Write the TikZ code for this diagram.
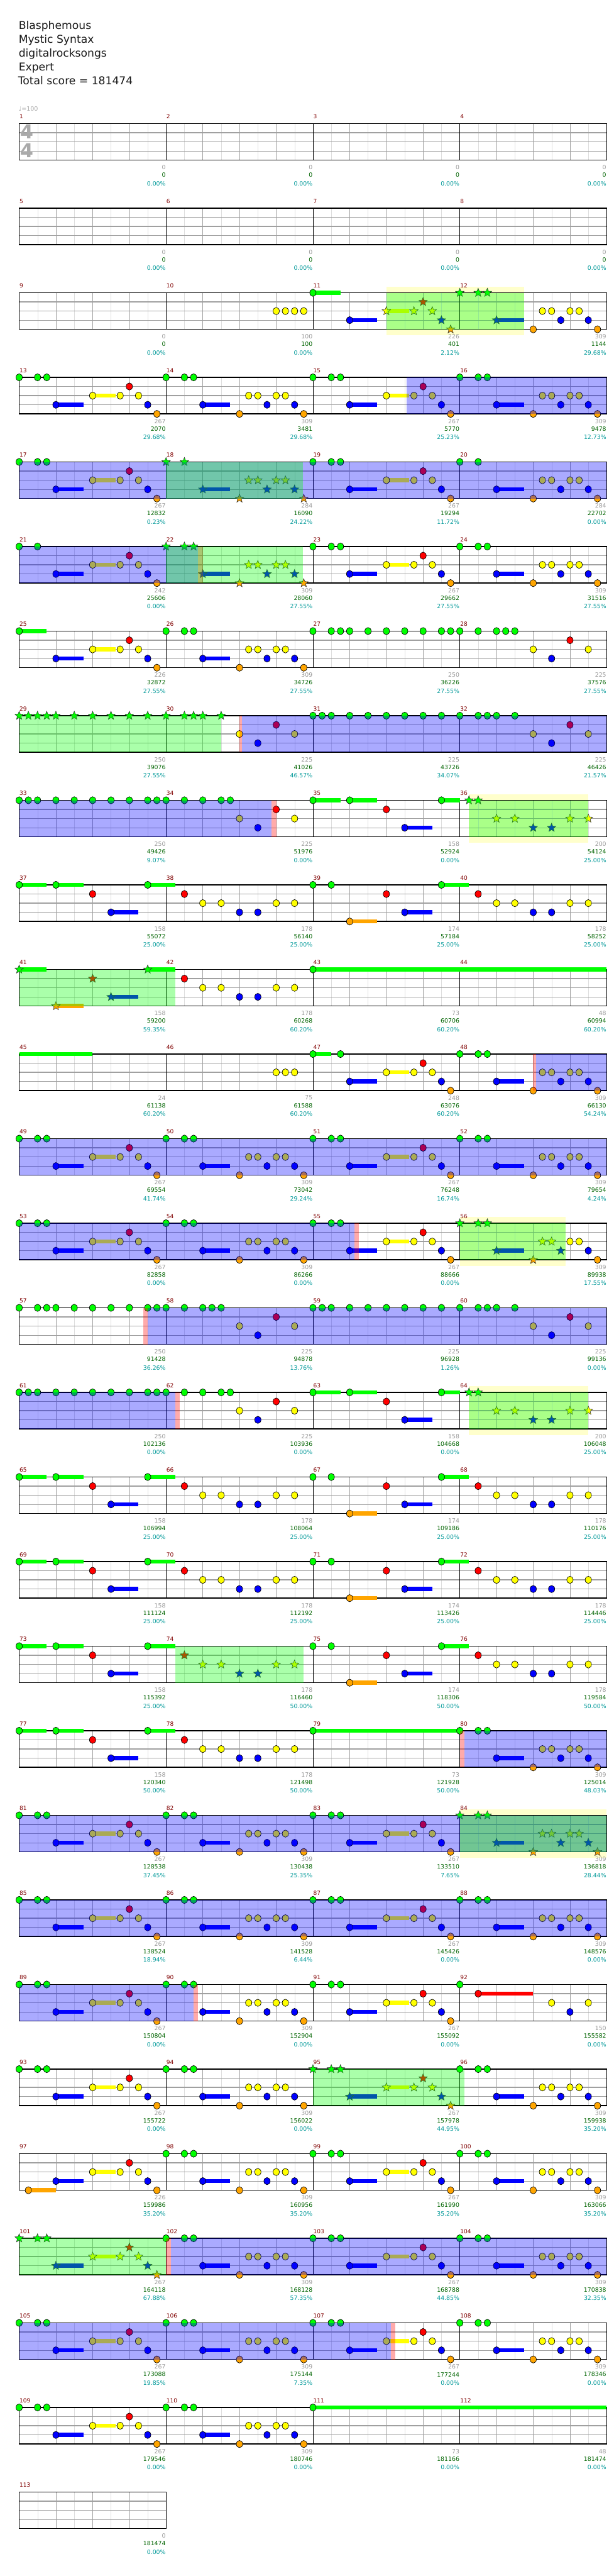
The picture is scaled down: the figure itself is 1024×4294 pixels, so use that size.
\documentclass[tikz,border=0pt]{standalone}
\usepackage{fontspec}
\setmainfont{DejaVu Sans}
\usetikzlibrary{shapes.geometric}
\definecolor{lane0}{HTML}{00FF00}
\definecolor{lane1}{HTML}{FF0000}
\definecolor{lane2}{HTML}{FFFF00}
\definecolor{lane3}{HTML}{0000FF}
\definecolor{lane4}{HTML}{FFA500}
\definecolor{barnum}{HTML}{800000}
\definecolor{ptgray}{HTML}{999999}
\definecolor{ptgreen}{HTML}{006400}
\definecolor{ptteal}{HTML}{009999}
\definecolor{phrasebg}{HTML}{FFFFCC}
\definecolor{gridmid}{HTML}{A0A0A0}
\definecolor{gridlight}{HTML}{DDDDDD}
\definecolor{sigray}{HTML}{AAAAAA}
\pgfdeclarelayer{phraselayer}
\pgfdeclarelayer{tintlayer}
\pgfsetlayers{phraselayer,main,tintlayer}
\tikzset{
  note/.style={ellipse, draw=black, line width=0.7pt, minimum width=10.5pt, minimum height=12pt, inner sep=0pt},
  starnote/.style={star, star points=5, star point ratio=2.3, draw=black!80, line width=0.6pt, minimum size=15pt, inner sep=0pt},
  barlabel/.style={font=\fontsize{9.5}{9.5}\selectfont, text=barnum, anchor=west, inner sep=0pt},
  ptlabel/.style={font=\fontsize{9.8}{9.8}\selectfont, anchor=east, inner sep=0pt},
  titletext/.style={font=\fontsize{18}{18}\selectfont, anchor=base west, inner sep=0pt, text=black!90},
  timesig/.style={font=\bfseries\fontsize{32}{32}\selectfont, text=sigray, inner sep=0pt}
}
\newcommand{\colw}{15.3125}
\newcommand{\laneh}{15.25}
% one measure: shift to its origin
\newcommand{\measure}[2]{%
  \pgfmathtruncatemacro\mrow{(#1-1)/4}%
  \pgfmathtruncatemacro\mcol{mod(#1-1,4)}%
  \begin{scope}[shift={({32+245*\mcol},{206+141*\mrow})}]#2\end{scope}}
\newcommand{\gem}[2]{\node[note,fill=lane#1] at ({#2*\colw},{#1*\laneh}) {};}
\newcommand{\hold}[3]{\fill[lane#1] ({#2*\colw},{#1*\laneh-3.4}) rectangle ({#3*\colw},{#1*\laneh+3.4});}
\newcommand{\gemhold}[3]{\hold{#1}{#2}{#3}\gem{#1}{#2}}
\newcommand{\stargem}[2]{\node[starnote,fill=lane#1] at ({#2*\colw},{#1*\laneh}) {};}
\newcommand{\starhold}[3]{\hold{#1}{#2}{#3}\stargem{#1}{#2}}
\newcommand{\tintblue}[2]{\begin{pgfonlayer}{tintlayer}\fill[lane3,fill opacity=0.333] ({#1*\colw},0) rectangle ({#2*\colw},61);\end{pgfonlayer}}
\newcommand{\tintgreen}[2]{\begin{pgfonlayer}{tintlayer}\fill[lane0,fill opacity=0.333] ({#1*\colw},0) rectangle ({#2*\colw},61);\end{pgfonlayer}}
\newcommand{\tintred}[2]{\begin{pgfonlayer}{tintlayer}\fill[lane1,fill opacity=0.333] ({#1*\colw},0) rectangle ({#2*\colw},61);\end{pgfonlayer}}
\newcommand{\phraseglow}[2]{\begin{pgfonlayer}{phraselayer}\fill[phrasebg] ({#1*\colw},-10) rectangle ({#2*\colw},71);\end{pgfonlayer}}
\newcommand{\pts}[3]{%
  \node[ptlabel,text=ptgray] at (244.5,73) {#1};
  \node[ptlabel,text=ptgreen] at (244.5,86) {#2};
  \node[ptlabel,text=ptteal] at (244.5,100) {#3};}
% riff pieces
\newcommand{\headG}[1]{#1{0}{0}#1{0}{2}#1{0}{3}}
\newcommand{\tailA}[2]{#2{3}{4}{7}#2{2}{8}{10.5}#1{2}{11}#1{1}{12}#1{2}{13}#1{3}{14}#1{4}{15}}
\newcommand{\tailB}[2]{#2{3}{4}{7}#1{4}{8}#1{2}{9}#1{2}{10}#1{3}{11}#1{2}{12}#1{2}{13}#1{3}{14}#1{4}{15}}
\newcommand{\riffA}{\headG\gem\tailA\gem\gemhold}
\newcommand{\riffB}{\headG\gem\tailB\gem\gemhold}
\newcommand{\starA}{\headG\stargem\tailA\stargem\starhold}
\newcommand{\starB}{\headG\stargem\tailB\stargem\starhold}
\newcommand{\leadC}[1]{#1{1}{2}#1{2}{4}#1{2}{6}#1{3}{8}#1{3}{10}#1{2}{12}#1{2}{14}}
\newcommand{\leadD}{\gem{2}{8}\gem{3}{10}\gem{1}{12}\gem{2}{14}}
\newcommand{\holdsE}{\gemhold{0}{0}{3}\gemhold{0}{4}{7}\gem{1}{8}\gemhold{3}{10}{13}\gemhold{0}{14}{17}}
\newcommand{\holdsF}{\gem{0}{0}\gem{0}{2}\gemhold{4}{4}{7}\gem{1}{8}\gemhold{3}{10}{13}\gemhold{0}{14}{17}}
\begin{document}
\begin{tikzpicture}[x=1pt,y=-1pt]
\begin{pgfonlayer}{phraselayer}
\fill[white] (0,0) rectangle (1024,4294);
\end{pgfonlayer}
\useasboundingbox (0,0) rectangle (1024,4294);
% header
\node[titletext] (song) at (31,49) {Blasphemous};
\node[titletext] (artist) at (31,72) {Mystic Syntax};
\node[titletext] (charter) at (31,95) {digitalrocksongs};
\node[titletext] (level) at (31,118) {Expert};
\node[titletext] (total) at (30,141) {Total score = 181474};
\node[font=\fontsize{10}{10}\selectfont, text=sigray, anchor=base west, inner sep=0pt] (tempo) at (31,185) {♩=100};
% staves
\foreach \r in {0,...,27} {
  \begin{scope}[shift={(32,{206+141*\r})}]
    \foreach \i in {1,3,...,31} \draw[gridlight] ({\i*30.625},0) -- ({\i*30.625},61);
    \foreach \i in {1,...,15} \draw[gridmid] ({\i*61.25},0) -- ({\i*61.25},61);
    \foreach \j in {1,2,3} \draw[gridmid,line width=1.3pt] (0,{\j*15.25}) -- (980,{\j*15.25});
    \foreach \c in {1,2,3} \draw[black,line width=0.8pt] ({\c*245},0) -- ({\c*245},61);
    \draw[black,line width=1.5pt] (0,0) rectangle (980,61);
    \foreach \c in {0,...,3} {
      \pgfmathtruncatemacro\mnum{\r*4+\c+1}
      \node[barlabel] at ({\c*245+0.5},-11.5) {\mnum};
    }
  \end{scope}
}
\begin{scope}[shift={(32,{206+141*28})}]
  \foreach \i in {1,3,...,7} \draw[gridlight] ({\i*30.625},0) -- ({\i*30.625},61);
  \foreach \i in {1,2,3} \draw[gridmid] ({\i*61.25},0) -- ({\i*61.25},61);
  \foreach \j in {1,2,3} \draw[gridmid,line width=1.3pt] (0,{\j*15.25}) -- (245,{\j*15.25});
  \draw[black,line width=1.5pt] (0,0) rectangle (245,61);
  \node[barlabel] at (0.5,-11.5) {113};
\end{scope}
\node[timesig] (sigtop) at (44.5,220) {4};
\node[timesig] (sigbot) at (44.5,250.5) {4};
% rows 1-2
\foreach \m in {1,...,8} {\measure{\m}{\pts{0}{0}{0.00\%}}}
% row 3
\measure{9}{\pts{0}{0}{0.00\%}}
\measure{10}{\gem{2}{12}\gem{2}{13}\gem{2}{14}\gem{2}{15}\pts{100}{100}{0.00\%}}
\measure{11}{\gemhold{0}{0}{3}\gemhold{3}{4}{7}\starhold{2}{8}{10.5}\stargem{2}{11}\stargem{1}{12}\stargem{2}{13}\stargem{3}{14}\stargem{4}{15}
  \tintgreen{8}{23}\phraseglow{8}{23}\pts{226}{401}{2.12\%}}
\measure{12}{\headG\stargem\starhold{3}{4}{7}\gem{4}{8}\gem{2}{9}\gem{2}{10}\gem{3}{11}\gem{2}{12}\gem{2}{13}\gem{3}{14}\gem{4}{15}\pts{309}{1144}{29.68\%}}
% row 4
\measure{13}{\riffA\pts{267}{2070}{29.68\%}}
\measure{14}{\riffB\pts{309}{3481}{29.68\%}}
\measure{15}{\riffA\tintblue{10.2}{16}\pts{267}{5770}{25.23\%}}
\measure{16}{\riffB\tintblue{0}{16}\pts{309}{9478}{12.73\%}}
% row 5
\measure{17}{\riffA\tintblue{0}{16}\pts{267}{12832}{0.23\%}}
\measure{18}{\stargem{0}{0}\stargem{0}{2}\tailB\stargem\starhold\tintblue{0}{16}\tintgreen{0}{14.9}\pts{284}{16090}{24.22\%}}
\measure{19}{\riffA\tintblue{0}{16}\pts{267}{19294}{11.72\%}}
\measure{20}{\gem{0}{0}\gem{0}{2}\tailB\gem\gemhold\tintblue{0}{16}\pts{284}{22702}{0.00\%}}
% row 6
\measure{21}{\gem{0}{0}\gem{0}{2}\tailA\gem\gemhold\tintblue{0}{16}\pts{242}{25606}{0.00\%}}
\measure{22}{\starB\tintblue{0}{3.5}\tintred{3.5}{4}\tintgreen{0}{14.9}\pts{309}{28060}{27.55\%}}
\measure{23}{\riffA\pts{267}{29662}{27.55\%}}
\measure{24}{\riffB\pts{309}{31516}{27.55\%}}
% row 7
\measure{25}{\gemhold{0}{0}{3}\tailA\gem\gemhold\pts{226}{32872}{27.55\%}}
\measure{26}{\riffB\pts{309}{34726}{27.55\%}}
\measure{27}{\foreach \p in {0,2,3,4,6,8,10,12,14,15} {\gem{0}{\p}}\pts{250}{36226}{27.55\%}}
\measure{28}{\foreach \p in {0,2,4,5,6} {\gem{0}{\p}}\leadD\pts{225}{37576}{27.55\%}}
% row 8
\measure{29}{\foreach \p in {0,1,2,3,4,6,8,10,12,14} {\stargem{0}{\p}}\tintgreen{0}{22}\pts{250}{39076}{27.55\%}}
\measure{30}{\foreach \p in {0,2,3,4,6} {\stargem{0}{\p}}\leadD\tintred{8}{8.3}\tintblue{8.3}{16}\pts{225}{41026}{46.57\%}}
\measure{31}{\foreach \p in {0,1,2,4,6,8,10,12,14} {\gem{0}{\p}}\tintblue{0}{16}\pts{225}{43726}{34.07\%}}
\measure{32}{\foreach \p in {0,2,3,4,6} {\gem{0}{\p}}\leadD\tintblue{0}{16}\pts{225}{46426}{21.57\%}}
% row 9
\measure{33}{\foreach \p in {0,1,2,4,6,8,10,12,14,15} {\gem{0}{\p}}\tintblue{0}{16}\pts{250}{49426}{9.07\%}}
\measure{34}{\foreach \p in {0,2,4,6,7} {\gem{0}{\p}}\leadD\tintblue{0}{11.5}\tintred{11.5}{12}\pts{225}{51976}{0.00\%}}
\measure{35}{\gemhold{0}{0}{3}\gemhold{0}{4}{7}\gem{1}{8}\gemhold{3}{10}{13}\gemhold{0}{14}{16}\pts{158}{52924}{0.00\%}}
\measure{36}{\stargem{0}{1}\stargem{0}{2}\stargem{2}{4}\stargem{2}{6}\stargem{3}{8}\stargem{3}{10}\stargem{2}{12}\stargem{2}{14}
  \tintgreen{1}{14}\phraseglow{1}{14}\pts{200}{54124}{25.00\%}}
% row 10
\measure{37}{\holdsE\pts{158}{55072}{25.00\%}}
\measure{38}{\leadC\gem\pts{178}{56140}{25.00\%}}
\measure{39}{\holdsF\pts{174}{57184}{25.00\%}}
\measure{40}{\leadC\gem\pts{178}{58252}{25.00\%}}
% row 11
\measure{41}{\starhold{0}{0}{3}\starhold{4}{4}{7}\stargem{1}{8}\starhold{3}{10}{13}\starhold{0}{14}{17}\tintgreen{0}{17}\pts{158}{59200}{59.35\%}}
\measure{42}{\leadC\gem\pts{178}{60268}{60.20\%}}
\measure{43}{\gemhold{0}{0}{32}\pts{73}{60706}{60.20\%}}
\measure{44}{\pts{48}{60994}{60.20\%}}
% row 12
\measure{45}{\hold{0}{0}{8}\pts{24}{61138}{60.20\%}}
\measure{46}{\gem{2}{12}\gem{2}{13}\gem{2}{14}\pts{75}{61588}{60.20\%}}
\measure{47}{\gemhold{0}{0}{2}\gem{0}{3}\tailA\gem\gemhold\pts{248}{63076}{60.20\%}}
\measure{48}{\riffB\tintred{8}{8.3}\tintblue{8.3}{16}\pts{309}{66130}{54.24\%}}
% row 13
\measure{49}{\riffA\tintblue{0}{16}\pts{267}{69554}{41.74\%}}
\measure{50}{\riffB\tintblue{0}{16}\pts{309}{73042}{29.24\%}}
\measure{51}{\riffA\tintblue{0}{16}\pts{267}{76248}{16.74\%}}
\measure{52}{\riffB\tintblue{0}{16}\pts{309}{79654}{4.24\%}}
% row 14
\measure{53}{\riffA\tintblue{0}{16}\pts{267}{82858}{0.00\%}}
\measure{54}{\riffB\tintblue{0}{16}\pts{309}{86266}{0.00\%}}
\measure{55}{\riffA\tintblue{0}{4.5}\tintred{4.5}{5}\pts{267}{88666}{0.00\%}}
\measure{56}{\headG\stargem\starhold{3}{4}{7}\stargem{4}{8}\stargem{2}{9}\stargem{2}{10}\stargem{3}{11}\gem{2}{12}\gem{2}{13}\gem{3}{14}\gem{4}{15}
  \tintgreen{0}{11.5}\phraseglow{0}{11.5}\pts{309}{89938}{17.55\%}}
% row 15
\measure{57}{\foreach \p in {0,2,3,4,6,8,10,12,14,15} {\gem{0}{\p}}\tintred{13.5}{14}\tintblue{14}{16}\pts{250}{91428}{36.26\%}}
\measure{58}{\foreach \p in {0,2,4,5,6} {\gem{0}{\p}}\leadD\tintblue{0}{16}\pts{225}{94878}{13.76\%}}
\measure{59}{\foreach \p in {0,1,2,4,6,8,10,12,14} {\gem{0}{\p}}\tintblue{0}{16}\pts{225}{96928}{1.26\%}}
\measure{60}{\foreach \p in {0,2,3,4,6} {\gem{0}{\p}}\leadD\tintblue{0}{16}\pts{225}{99136}{0.00\%}}
% row 16
\measure{61}{\foreach \p in {0,1,2,4,6,8,10,12,14,15} {\gem{0}{\p}}\tintblue{0}{16}\pts{250}{102136}{0.00\%}}
\measure{62}{\foreach \p in {0,2,4,6,7} {\gem{0}{\p}}\leadD\tintblue{0}{1}\tintred{1}{1.5}\pts{225}{103936}{0.00\%}}
\measure{63}{\gemhold{0}{0}{3}\gemhold{0}{4}{7}\gem{1}{8}\gemhold{3}{10}{13}\gemhold{0}{14}{16}\pts{158}{104668}{0.00\%}}
\measure{64}{\stargem{0}{1}\stargem{0}{2}\stargem{2}{4}\stargem{2}{6}\stargem{3}{8}\stargem{3}{10}\stargem{2}{12}\stargem{2}{14}
  \tintgreen{1}{14}\phraseglow{1}{14}\pts{200}{106048}{25.00\%}}
% row 17
\measure{65}{\holdsE\pts{158}{106994}{25.00\%}}
\measure{66}{\leadC\gem\pts{178}{108064}{25.00\%}}
\measure{67}{\holdsF\pts{174}{109186}{25.00\%}}
\measure{68}{\leadC\gem\pts{178}{110176}{25.00\%}}
% row 18
\measure{69}{\holdsE\pts{158}{111124}{25.00\%}}
\measure{70}{\leadC\gem\pts{178}{112192}{25.00\%}}
\measure{71}{\holdsF\pts{174}{113426}{25.00\%}}
\measure{72}{\leadC\gem\pts{178}{114446}{25.00\%}}
% row 19
\measure{73}{\holdsE\pts{158}{115392}{25.00\%}}
\measure{74}{\leadC\stargem\tintgreen{1}{15}\pts{178}{116460}{50.00\%}}
\measure{75}{\holdsF\pts{174}{118306}{50.00\%}}
\measure{76}{\leadC\gem\pts{178}{119584}{50.00\%}}
% row 20
\measure{77}{\holdsE\pts{158}{120340}{50.00\%}}
\measure{78}{\leadC\gem\pts{178}{121498}{50.00\%}}
\measure{79}{\gemhold{0}{0}{16}\pts{73}{121928}{50.00\%}}
\measure{80}{\riffB\tintred{0}{0.5}\tintblue{0.5}{16}\pts{309}{125014}{48.03\%}}
% row 21
\measure{81}{\riffA\tintblue{0}{16}\pts{267}{128538}{37.45\%}}
\measure{82}{\riffB\tintblue{0}{16}\pts{309}{130438}{25.35\%}}
\measure{83}{\riffA\tintblue{0}{16}\pts{267}{133510}{7.65\%}}
\measure{84}{\starB\tintblue{0}{16}\tintgreen{0}{16}\phraseglow{0}{16}\pts{309}{136818}{28.44\%}}
% row 22
\measure{85}{\riffA\tintblue{0}{16}\pts{267}{138524}{18.94\%}}
\measure{86}{\riffB\tintblue{0}{16}\pts{309}{141528}{6.44\%}}
\measure{87}{\riffA\tintblue{0}{16}\pts{267}{145426}{0.00\%}}
\measure{88}{\riffB\tintblue{0}{16}\pts{309}{148576}{0.00\%}}
% row 23
\measure{89}{\riffA\tintblue{0}{16}\pts{267}{150804}{0.00\%}}
\measure{90}{\riffB\tintblue{0}{3}\tintred{3}{3.5}\pts{309}{152904}{0.00\%}}
\measure{91}{\riffA\pts{267}{155092}{0.00\%}}
\measure{92}{\gem{0}{0}\gemhold{1}{2}{8}\gem{2}{10}\gem{3}{12}\gem{2}{14}\pts{150}{155582}{0.00\%}}
% row 24
\measure{93}{\riffA\pts{267}{155722}{0.00\%}}
\measure{94}{\riffB\pts{309}{156022}{0.00\%}}
\measure{95}{\starA\tintgreen{0}{16.5}\pts{267}{157978}{44.95\%}}
\measure{96}{\riffB\pts{309}{159938}{35.20\%}}
% row 25
\measure{97}{\gemhold{4}{1}{4}\tailA\gem\gemhold\pts{226}{159986}{35.20\%}}
\measure{98}{\riffB\pts{309}{160956}{35.20\%}}
\measure{99}{\riffA\pts{267}{161990}{35.20\%}}
\measure{100}{\riffB\pts{309}{163066}{35.20\%}}
% row 26
\measure{101}{\starA\tintgreen{0}{16}\pts{267}{164118}{67.88\%}}
\measure{102}{\riffB\tintred{0}{0.5}\tintblue{0.5}{16}\pts{309}{168128}{57.35\%}}
\measure{103}{\riffA\tintblue{0}{16}\pts{267}{168788}{44.85\%}}
\measure{104}{\riffB\tintblue{0}{16}\pts{309}{170838}{32.35\%}}
% row 27
\measure{105}{\riffA\tintblue{0}{16}\pts{267}{173088}{19.85\%}}
\measure{106}{\riffB\tintblue{0}{16}\pts{309}{175144}{7.35\%}}
\measure{107}{\riffA\tintblue{0}{8.5}\tintred{8.5}{9}\pts{267}{177244}{0.00\%}}
\measure{108}{\riffB\pts{309}{178346}{0.00\%}}
% row 28
\measure{109}{\riffA\pts{267}{179546}{0.00\%}}
\measure{110}{\riffB\pts{309}{180746}{0.00\%}}
\measure{111}{\gemhold{0}{0}{32}\pts{73}{181166}{0.00\%}}
\measure{112}{\pts{48}{181474}{0.00\%}}
% row 29
\measure{113}{\pts{0}{181474}{0.00\%}}
\end{tikzpicture}
\end{document}
